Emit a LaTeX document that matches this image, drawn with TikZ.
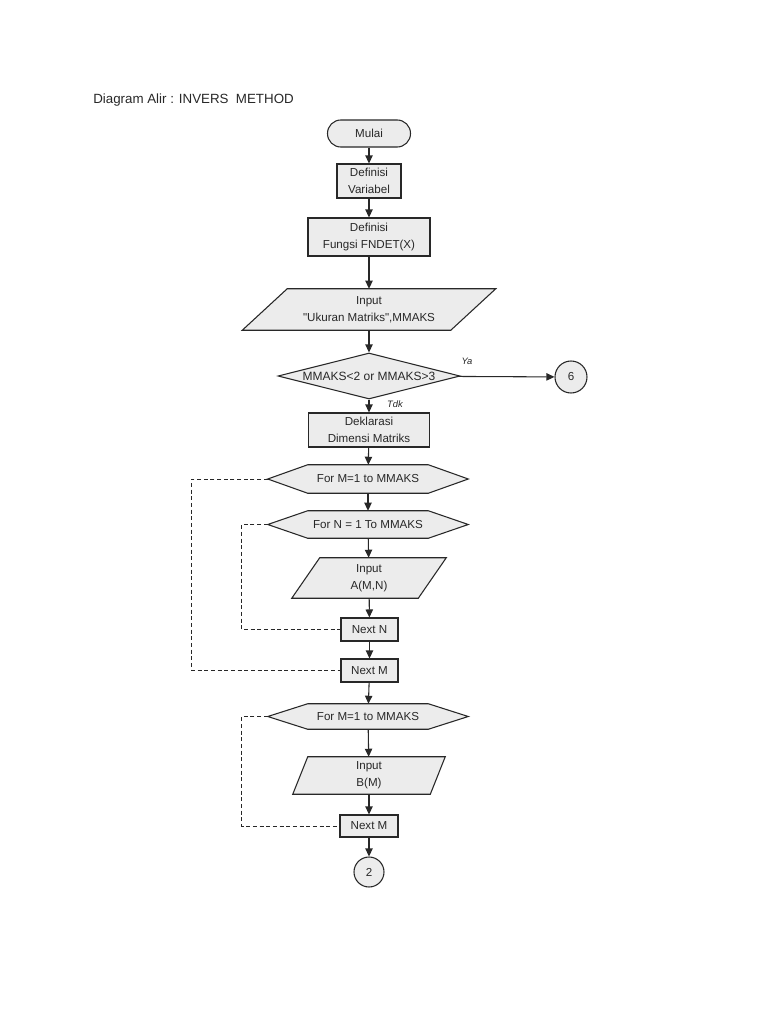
\documentclass[tikz,border=0pt]{standalone}
\usepackage{fontspec}
\setmainfont{Liberation Sans}[Ligatures=TeXOff]
\usetikzlibrary{shapes.geometric,arrows.meta,calc,backgrounds}
\definecolor{lc}{RGB}{40,40,40}
\definecolor{fc}{RGB}{236,236,236}
\begin{document}
\begin{tikzpicture}[x=0.75pt,y=-0.75pt,
  txt/.style={font=\fontsize{8.7}{12.5}\selectfont, text=lc, align=center, inner sep=0pt},
  box/.style={txt, draw=lc, fill=fc, line width=0.8pt},
  ghost/.style={txt},
  shp/.style={draw=lc, fill=fc, line width=0.8pt},
  arr/.style={draw=lc, line width=0.8pt, -{Triangle[length=6pt,width=5.5pt]}},
  loop/.style={draw=lc, line width=0.75pt, dash pattern=on 3pt off 2pt},
  lbl/.style={font=\fontsize{7}{8}\itshape, text=lc, inner sep=0pt}
]
\useasboundingbox (0,0) rectangle (768,1024);

\node[anchor=west, inner sep=0pt, text=lc, font=\fontsize{10}{12}\selectfont] (title) at (93,100) {Diagram Alir : INVERS\ \ METHOD};

\node[box, rounded corners=10pt, minimum width=62.25pt, minimum height=20.25pt] (mulai) at (369,133.5) {Mulai};
\node[box, minimum width=48pt, minimum height=25.5pt] (defv) at (369,181) {Definisi\\Variabel};
\node[box, minimum width=91.5pt, minimum height=28.5pt] (deff) at (369,237) {Definisi\\Fungsi FNDET(X)};
\node[ghost, minimum width=156pt, minimum height=30.75pt] (inp) at (369,309.5) {Input\\"Ukuran Matriks",MMAKS};
\node[txt, draw=lc, fill=fc, line width=0.8pt, diamond, aspect=3.96, minimum width=136.5pt, minimum height=34.5pt, font=\fontsize{9}{11}\selectfont] (dec) at (369,376) {MMAKS<2 or MMAKS>3};
\node[box, circle, minimum size=24pt] (c6) at (571,377) {6};
\node[box, minimum width=90.75pt, minimum height=25.5pt] (dekl) at (369,430) {Deklarasi\\Dimensi Matriks};
\node[ghost, minimum width=150pt, minimum height=21pt] (form) at (368,479) {For M=1 to MMAKS};
\node[ghost, minimum width=150pt, minimum height=20.25pt] (forn) at (368,524.5) {For N = 1 To MMAKS};
\node[ghost, minimum width=94.5pt, minimum height=30pt] (inpa) at (369,578) {Input\\A(M,N)};
\node[box, minimum width=42.75pt, minimum height=17.25pt] (nextn) at (369.5,629.5) {Next N};
\node[box, minimum width=42.75pt, minimum height=17.25pt] (nextm) at (369.5,670.5) {Next M};
\node[ghost, minimum width=150pt, minimum height=18.75pt] (form2) at (368,716.5) {For M=1 to MMAKS};
\node[ghost, minimum width=102.75pt, minimum height=27.75pt] (inpb) at (369,775.5) {Input\\B(M)};
\node[box, minimum width=43.5pt, minimum height=16.5pt] (nextm2) at (369,826) {Next M};
\node[box, circle, minimum size=22.5pt] (c2) at (369,872) {2};

\begin{scope}[on background layer]
  \fill[white] (0,0) rectangle (768,1024);
  \path[shp] ($(inp.north west)+(22.5,0)$) -- ($(inp.north east)+(22.5,0)$) -- ($(inp.south east)+(-22.5,0)$) -- ($(inp.south west)+(-22.5,0)$) -- cycle;
  \path[shp] ($(inpa.north west)+(14,0)$) -- ($(inpa.north east)+(14,0)$) -- ($(inpa.south east)+(-14,0)$) -- ($(inpa.south west)+(-14,0)$) -- cycle;
  \path[shp] ($(inpb.north west)+(7.5,0)$) -- ($(inpb.north east)+(7.5,0)$) -- ($(inpb.south east)+(-7.5,0)$) -- ($(inpb.south west)+(-7.5,0)$) -- cycle;
  \foreach \h in {form,forn,form2}{
    \path[shp] (\h.west) -- ($(\h.north west)+(40,0)$) -- ($(\h.north east)+(-40,0)$) -- (\h.east) -- ($(\h.south east)+(-40,0)$) -- ($(\h.south west)+(40,0)$) -- cycle;
  }
\end{scope}

\draw[arr] (mulai) -- (defv);
\draw[arr] (defv) -- (deff);
\draw[arr] (deff) -- (inp);
\draw[arr] (inp) -- (dec);
\draw[arr] (dec) -- (c6);
\draw[arr] (dec) -- (dekl);
\draw[arr] (dekl) -- (form);
\draw[arr] (form) -- (forn);
\draw[arr] (forn) -- (inpa);
\draw[arr] (inpa) -- (nextn);
\draw[arr] (nextn) -- (nextm);
\draw[arr] (nextm) -- (form2);
\draw[arr] (form2) -- (inpb);
\draw[arr] (inpb) -- (nextm2);
\draw[arr] (nextm2) -- (c2);

\draw[loop] (form.west) -- ++(-76,0) |- (nextm.west);
\draw[loop] (forn.west) -- ++(-26,0) |- (nextn.west);
\draw[loop] (form2.west) -- ++(-26,0) |- (nextm2.west);

\node[lbl] (ya) at (467,361) {Ya};
\node[lbl] (tdk) at (395,404) {Tdk};
\end{tikzpicture}
\end{document}
